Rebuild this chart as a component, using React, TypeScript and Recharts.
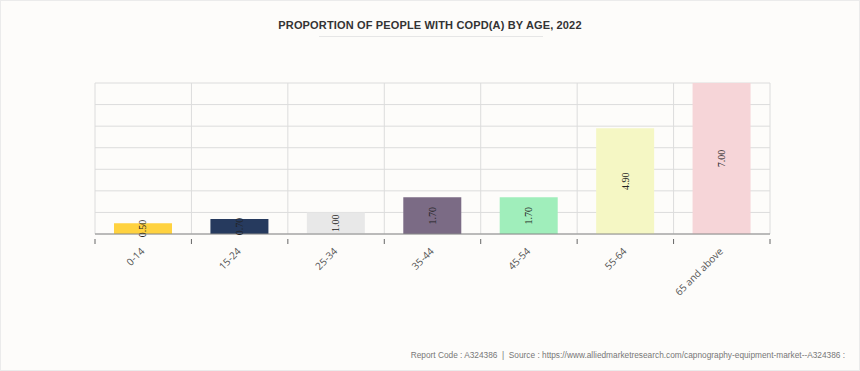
import React from "react";
import { BarChart, Bar, XAxis, YAxis, CartesianGrid, Cell, LabelList } from "recharts";

const categories = ["0-14", "15-24", "25-34", "35-44", "45-54", "55-64", "65 and above"];
const values = [0.5, 0.7, 1.0, 1.7, 1.7, 4.9, 7.0];
const barColors = ["#ffd23f", "#263a5e", "#e8e8e8", "#7b6b85", "#a0eebb", "#f5f7c4", "#f6d5d8"];
const yTicks = [0, 1, 2, 3, 4, 5, 6, 7];

const data = categories.map((c, i) => ({ age: c, value: values[i] }));

const W = 860;
const H = 371;
const AXIS_H = 30;
const margin = { top: 83, right: 90, left: 95, bottom: 137 - AXIS_H };

const AgeTick = (props: any) => {
  const { x, y, payload } = props;
  const half = (W - margin.left - margin.right) / categories.length / 2;
  const axisY = y - 3;
  return (
    <g>
      <line x1={x - half} y1={axisY} x2={x - half} y2={axisY + 5} stroke="#666" />
      {payload.index === categories.length - 1 && (
        <line x1={x + half} y1={axisY} x2={x + half} y2={axisY + 5} stroke="#666" />
      )}
      <text
        x={x + 2}
        y={axisY + 13}
        textAnchor="end"
        fill="#555"
        fontSize={10}
        fontFamily="'Open Sans', sans-serif"
        transform={`rotate(-45 ${x + 2} ${axisY + 13})`}
      >
        {payload.value}
      </text>
    </g>
  );
};

const ValueLabel = (props: any) => {
  const { x, y, width, height, value } = props;
  const cx = x + width / 2;
  const cy = y + height / 2;
  return (
    <text
      x={cx}
      y={cy}
      textAnchor="middle"
      dominantBaseline="central"
      fill="#222"
      fontSize={10}
      fontFamily="'Liberation Serif', serif"
      transform={`rotate(-90 ${cx} ${cy})`}
    >
      {Number(value).toFixed(2)}
    </text>
  );
};

export default function App() {
  return (
    <div
      style={{
        position: "absolute",
        left: 0,
        top: 0,
        width: W,
        height: H,
        boxSizing: "border-box",
        background: "#fdfcfa",
        border: "1px solid #ebebeb",
        fontFamily: "'Liberation Sans', Arial, sans-serif",
      }}
    >
      <div
        style={{
          position: "absolute",
          top: 18,
          left: 0,
          width: "100%",
          textAlign: "center",
          fontSize: 11,
          fontWeight: 700,
          letterSpacing: 0.15,
          color: "#333",
        }}
      >
        PROPORTION OF PEOPLE WITH COPD(A) BY AGE, 2022
      </div>
      <div style={{ position: "absolute", top: 35, left: 318, width: 224, height: 1, background: "#e6e6e6" }} />
      <BarChart width={W} height={H} data={data} margin={margin} style={{ position: "absolute", left: -1, top: -1 }}>
        <CartesianGrid
          stroke="#dcdcdc"
          horizontal
          vertical
          verticalCoordinatesGenerator={({ offset }: any) =>
            Array.from({ length: categories.length + 1 }, (_, i) => offset.left + (i * offset.width) / categories.length)
          }
        />
        <XAxis
          dataKey="age"
          interval={0}
          tickLine={false}
          axisLine={{ stroke: "#888" }}
          tick={<AgeTick />}
          height={AXIS_H}
        />
        <YAxis hide domain={[0, 7]} ticks={yTicks} interval={0} />
        <Bar dataKey="value" barSize={58} isAnimationActive={false}>
          {data.map((d, i) => (
            <Cell key={d.age} fill={barColors[i]} />
          ))}
          <LabelList dataKey="value" content={<ValueLabel />} />
        </Bar>
      </BarChart>
      <div
        style={{
          position: "absolute",
          right: 14,
          top: 349,
          fontSize: 8.3,
          color: "#777",
          whiteSpace: "nowrap",
        }}
      >
        Report Code : A324386&nbsp; |&nbsp; Source : https://www.alliedmarketresearch.com/capnography-equipment-market--A324386 :
      </div>
    </div>
  );
}
